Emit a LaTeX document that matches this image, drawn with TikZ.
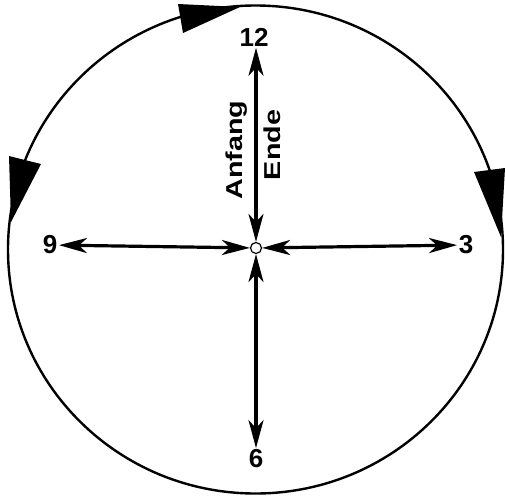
\documentclass[tikz,border=0pt]{standalone}
\usepackage{fontspec}
\setmainfont{Liberation Sans}
\usetikzlibrary{positioning,arrows.meta}

\begin{document}
\begin{tikzpicture}[x=1pt, y=-1pt, font=\bfseries\fontsize{26}{28}\selectfont,
    >={Stealth[length=28pt,width=15pt,inset=8pt]},
    ziffer/.style={inner sep=1.5pt},
    pfeil/.style={<->, line width=3.2pt},
    spitze/.style={fill=black},
    beschr/.style={rotate=90, inner sep=0pt, font=\bfseries\fontsize{23}{25}\selectfont}]
    \useasboundingbox (0,0) rectangle (505,498);
    % Zifferblatt
    \draw[line width=2.4pt] (255.5,249.5) ellipse [x radius=247.5, y radius=244];
    \fill[spitze] (178,4) -- (240,7) -- (183,33) -- cycle;
    \fill[spitze] (9,156) -- (11,222) -- (41,164) -- cycle;
    \fill[spitze] (474,172) -- (501,237) -- (505,168) -- cycle;
    % Mitte und Ziffern
    \node[ziffer] (n12) at (254,37) {12};
    \node[ziffer] (n9) at (50,245) {9};
    \node[ziffer] (n3) at (466,245) {3};
    \node[ziffer] (n6) at (256,459) {6};
    \node[circle, draw, line width=1.2pt, fill=white, minimum size=11pt, inner sep=0pt] (mitte) at (256,248) {};
    \draw[pfeil] (mitte) -- (n12.south -| mitte);
    \draw[pfeil] (mitte) -- (n9);
    \draw[pfeil] (mitte) -- (n3);
    \draw[pfeil] (mitte) -- (n6);
    \node[beschr] (anfang) at (237,150) {\scalebox{1.25}[1]{Anfang}};
    \node[beschr] (ende) at (272,145) {\scalebox{1.25}[1]{Ende}};
\end{tikzpicture}
\end{document}
